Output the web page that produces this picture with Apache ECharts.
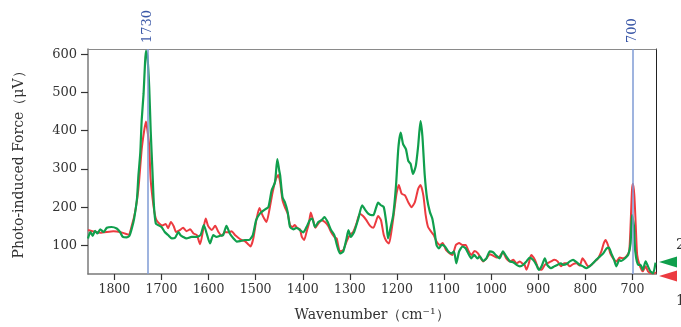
<!DOCTYPE html>
<html><head><meta charset="utf-8">
<script src="https://cdn.jsdelivr.net/npm/echarts@6/dist/echarts.min.js"></script>
<style>html,body{margin:0;padding:0;background:#fff}#c{width:681px;height:327px}</style>
</head><body><div id="c"></div>
<script>
// Wavenumbers (cm^-1) and photo-induced force (µV)
const wnRed = [
 1856,1830,1802,1788,1770,1763,1756,1749,1742,1737,
 1733,1730,1726,1723,1717,1712,1707,1698,1691,1686,
 1680,1674,1669,1662,1654,1647,1639,1632,1625,1618,
 1611,1606,1601,1593,1586,1579,1572,1565,1558,1551,
 1544,1537,1530,1523,1516,1511,1505,1498,1492,1487,
 1482,1477,1471,1464,1457,1452,1448,1443,1438,1432,
 1427,1422,1417,1412,1406,1402,1397,1392,1387,1383,
 1378,1373,1367,1360,1353,1346,1340,1333,1328,1321,
 1314,1307,1300,1293,1286,1279,1272,1265,1257,1250,
 1245,1240,1234,1228,1222,1217,1212,1207,1201,1196,
 1190,1183,1176,1169,1162,1155,1150,1144,1139,1134,
 1127,1122,1116,1109,1103,1096,1088,1082,1075,1068,
 1061,1054,1049,1042,1035,1028,1022,1017,1010,1003,
 996,989,982,975,968,960,953,946,939,934,
 929,925,920,915,907,900,893,886,881,873,
 866,859,852,845,840,833,826,819,812,806,
 801,794,787,780,773,766,761,757,752,747,
 741,734,727,720,713,707,704,701,699,696,
 693,690,685,678,672,667,660,653,650];
const red = [
 140,133,137,135,128,152,187,247,351,398,
 424,403,360,273,204,170,160,152,156,145,
 161,150,135,139,146,137,142,131,127,103,
 144,170,151,140,151,135,125,135,134,137,
 127,120,114,111,103,97,118,170,198,183,
 170,161,192,239,274,284,265,218,200,183,
 153,148,153,146,142,122,114,135,157,186,
 166,146,157,166,161,151,135,122,118,84,
 88,110,127,135,157,183,177,166,151,146,
 161,177,166,127,110,105,135,179,235,258,
 235,231,213,200,213,248,258,231,179,148,
 135,127,110,101,106,88,79,75,101,106,
 101,101,88,75,85,79,66,58,66,77,
 73,68,71,82,66,58,62,53,58,53,
 49,36,53,75,62,40,36,49,53,58,
 62,58,45,53,53,45,51,53,47,66,
 58,45,49,58,66,84,105,114,101,79,
 66,58,68,66,71,84,153,244,261,231,
 153,75,49,32,45,32,27,27,30];
const wnGreen = [
 1856,1851,1846,1841,1836,1830,1823,1816,1806,1795,
 1788,1782,1774,1768,1763,1758,1752,1749,1745,1742,
 1738,1735,1733,1730,1726,1723,1719,1716,1712,1707,
 1700,1693,1686,1678,1671,1664,1660,1654,1647,1636,
 1625,1617,1610,1604,1597,1590,1583,1576,1569,1562,
 1555,1547,1540,1533,1523,1514,1506,1499,1491,1480,
 1473,1466,1459,1454,1450,1448,1443,1438,1432,1427,
 1420,1413,1406,1399,1392,1385,1380,1374,1367,1360,
 1354,1347,1340,1333,1328,1321,1314,1307,1303,1298,
 1291,1282,1274,1268,1261,1254,1250,1245,1240,1234,
 1228,1222,1219,1214,1208,1202,1197,1192,1187,1181,
 1176,1171,1166,1160,1155,1150,1146,1141,1136,1130,
 1125,1120,1116,1111,1105,1098,1091,1084,1079,1074,
 1068,1061,1054,1049,1042,1036,1029,1024,1017,1010,
 1003,996,989,982,975,968,960,953,946,939,
 932,925,918,911,904,899,893,886,881,873,
 866,859,852,847,840,833,826,819,812,805,
 798,791,784,777,769,762,755,750,745,739,
 734,728,724,716,709,704,701,697,694,688,
 683,678,672,667,662,656,651];
const green = [
 118,135,125,138,131,142,135,146,148,144,
 135,122,121,125,144,170,222,282,342,428,
 497,575,609,596,514,403,290,204,157,153,
 148,135,127,118,120,135,127,122,118,122,
 122,127,153,131,105,127,122,125,127,151,
 131,118,110,111,114,114,127,166,183,194,
 200,244,265,326,296,283,226,213,187,148,
 142,146,140,134,148,166,170,148,161,166,
 174,161,140,127,103,79,84,118,140,122,
 135,170,205,194,183,179,179,196,212,205,
 200,153,118,144,179,257,356,395,365,352,
 321,313,287,308,360,425,386,283,222,187,
 170,135,101,92,101,97,84,79,84,53,
 84,97,92,80,66,75,66,71,59,66,
 84,82,73,66,84,71,58,56,49,45,
 49,58,68,62,49,36,45,66,49,40,
 45,49,53,49,51,58,62,56,49,45,
 40,45,53,62,71,79,92,94,79,62,
 45,62,59,66,75,105,179,153,84,49,
 49,36,58,45,32,27,55];
const xTicks = [1800,1700,1600,1500,1400,1300,1200,1100,1000,900,800,700];
const yTicks = [100,200,300,400,500,600];
const markers = [1730, 700];
const xName = 'Wavenumber（cm⁻¹）';
const yName = 'Photo-induced Force（μV）';

const FONT = 'DejaVu Serif';
const xMin = 650, xMax = 1856, yMin = 25, yMax = 614;
const plain = v => String(v);
const chart = echarts.init(document.getElementById('c'), null, {renderer: 'canvas'});
const pair = (ws, vs) => ws.map((w, i) => [w, vs[i]]);
chart.setOption({
  animation: false,
  grid: {left: 88, right: 25, top: 49, bottom: 51},
  xAxis: [{
    type: 'value', min: xMin, max: xMax, inverse: true, position: 'bottom',
    axisLine: {lineStyle: {color: '#7a7a7a', width: 1.5}},
    axisTick: {customValues: xTicks, length: 6, lineStyle: {color: '#333', width: 1.2}},
    axisLabel: {customValues: xTicks, formatter: plain, margin: 9, fontFamily: FONT, fontSize: 12.5, color: '#333'},
    splitLine: {show: false},
    name: xName, nameLocation: 'middle', nameGap: 34,
    nameTextStyle: {fontFamily: FONT, fontSize: 14, color: '#333'}
  }, {
    type: 'value', min: xMin, max: xMax, inverse: true, position: 'top',
    axisLine: {lineStyle: {color: '#8a8a8a', width: 1.2}},
    axisTick: {show: false},
    axisLabel: {customValues: markers, formatter: plain, rotate: -90, margin: 6, color: '#3a57a7', fontFamily: FONT, fontSize: 13},
    splitLine: {show: false}
  }],
  yAxis: [{
    type: 'value', min: yMin, max: yMax,
    axisLine: {show: true, lineStyle: {color: '#7a7a7a', width: 1.5}},
    axisTick: {show: true, customValues: yTicks, length: 7, lineStyle: {color: '#333', width: 1.2}},
    axisLabel: {customValues: yTicks, formatter: plain, margin: 11, fontFamily: FONT, fontSize: 13, color: '#333'},
    splitLine: {show: false},
    name: yName, nameLocation: 'middle', nameGap: 62,
    nameTextStyle: {fontFamily: FONT, fontSize: 14, color: '#333'}
  }, {
    type: 'value', position: 'right', min: yMin, max: yMax,
    axisLine: {show: true, lineStyle: {color: '#222', width: 1}},
    axisTick: {show: false}, axisLabel: {show: false}, splitLine: {show: false}
  }],
  series: [{
    type: 'line', data: [], z: 1, silent: true,
    markLine: {
      silent: true, symbol: ['none', 'none'], animation: false,
      label: {show: false},
      lineStyle: {color: '#7f9bd4', width: 1.5, type: 'solid'},
      data: markers.map(v => ({xAxis: v}))
    }
  }, {
    name: '1', type: 'line', data: pair(wnRed, red), showSymbol: false, z: 2,
    smooth: 0.2, lineStyle: {color: '#ec3b40', width: 2}
  }, {
    name: '2', type: 'line', data: pair(wnGreen, green), showSymbol: false, z: 3,
    smooth: 0.2, lineStyle: {color: '#109f4d', width: 2.2}
  }],
  graphic: [
    {type: 'polygon', shape: {points: [[659, 262], [677, 256.5], [677, 267.5]]}, style: {fill: '#0f9f4c'}},
    {type: 'polygon', shape: {points: [[659, 276], [677, 270.5], [677, 281.5]]}, style: {fill: '#ec3b40'}},
    {type: 'text', left: 676, top: 238, style: {text: '2', font: '14px "DejaVu Serif"', fill: '#333'}},
    {type: 'text', left: 676, top: 294, style: {text: '1', font: '14px "DejaVu Serif"', fill: '#333'}}
  ]
});
</script>
</body></html>
